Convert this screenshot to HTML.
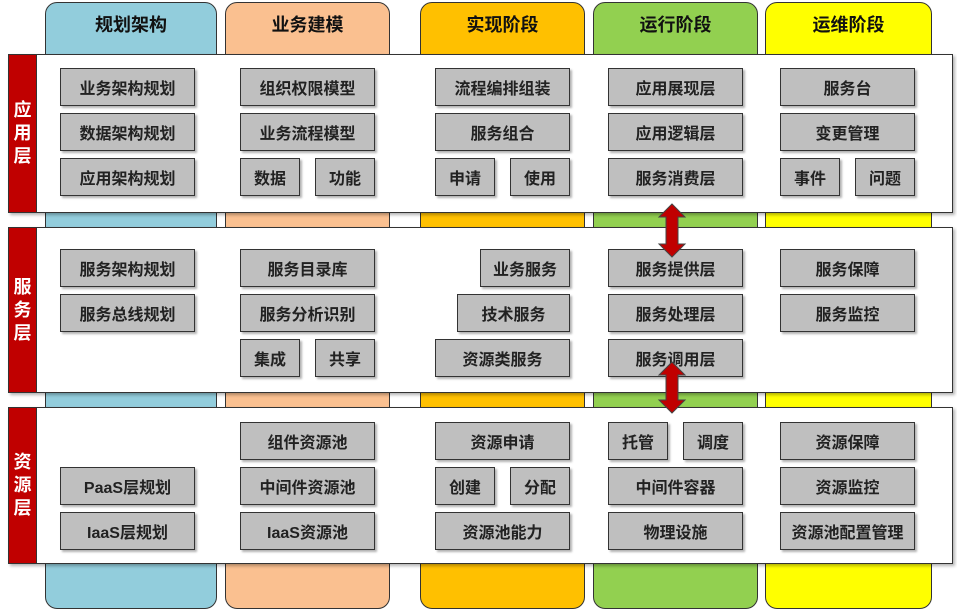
<!DOCTYPE html>
<html><head><meta charset="utf-8"><style>
body{margin:0;width:957px;height:613px;background:#fff;position:relative;overflow:hidden;font-family:"Liberation Sans","Noto Sans CJK SC",sans-serif;}
.col{position:absolute;top:2px;height:607px;border:1px solid #333;border-radius:12px;box-sizing:border-box;}
.col span{display:block;text-align:center;font-weight:bold;font-size:18px;margin-top:8px;color:#111}
.panel{position:absolute;left:8px;width:945px;background:#fff;border:1px solid #333;box-sizing:border-box;box-shadow:2px 2px 3px rgba(0,0,0,.3)}
.lab{position:absolute;left:8px;width:29px;background:#c00000;color:#fff;font-weight:bold;font-size:18px;display:flex;align-items:center;justify-content:center;text-align:center;line-height:23px;border:1px solid #333;box-sizing:border-box}
.b{position:absolute;height:38px;background:#bfbfbf;border:1px solid #333;box-sizing:border-box;display:flex;align-items:center;justify-content:center;font-size:16px;font-weight:bold;color:#222;box-shadow:2px 2px 2px rgba(0,0,0,.3)}
</style></head><body>
<div class="col" style="left:45px;width:172px;background:#92cddc"><span>规划架构</span></div>
<div class="col" style="left:225px;width:165px;background:#fac090"><span>业务建模</span></div>
<div class="col" style="left:420px;width:165px;background:#ffc000"><span>实现阶段</span></div>
<div class="col" style="left:593px;width:165px;background:#92d050"><span>运行阶段</span></div>
<div class="col" style="left:765px;width:167px;background:#ffff00"><span>运维阶段</span></div>

<div class="panel" style="top:54px;height:159px"></div>
<div class="lab" style="top:54px;height:159px">应<br>用<br>层</div>
<div class="panel" style="top:227px;height:166px"></div>
<div class="lab" style="top:227px;height:166px">服<br>务<br>层</div>
<div class="panel" style="top:407px;height:157px"></div>
<div class="lab" style="top:407px;height:157px">资<br>源<br>层</div>

<div class="b" style="left:60px;top:68px;width:135px">业务架构规划</div>
<div class="b" style="left:60px;top:113px;width:135px">数据架构规划</div>
<div class="b" style="left:60px;top:158px;width:135px">应用架构规划</div>
<div class="b" style="left:240px;top:68px;width:135px">组织权限模型</div>
<div class="b" style="left:240px;top:113px;width:135px">业务流程模型</div>
<div class="b" style="left:240px;top:158px;width:60px">数据</div>
<div class="b" style="left:315px;top:158px;width:60px">功能</div>
<div class="b" style="left:435px;top:68px;width:135px">流程编排组装</div>
<div class="b" style="left:435px;top:113px;width:135px">服务组合</div>
<div class="b" style="left:435px;top:158px;width:60px">申请</div>
<div class="b" style="left:510px;top:158px;width:60px">使用</div>
<div class="b" style="left:608px;top:68px;width:135px">应用展现层</div>
<div class="b" style="left:608px;top:113px;width:135px">应用逻辑层</div>
<div class="b" style="left:608px;top:158px;width:135px">服务消费层</div>
<div class="b" style="left:780px;top:68px;width:135px">服务台</div>
<div class="b" style="left:780px;top:113px;width:135px">变更管理</div>
<div class="b" style="left:780px;top:158px;width:60px">事件</div>
<div class="b" style="left:855px;top:158px;width:60px">问题</div>

<div class="b" style="left:60px;top:249px;width:135px">服务架构规划</div>
<div class="b" style="left:60px;top:294px;width:135px">服务总线规划</div>
<div class="b" style="left:240px;top:249px;width:135px">服务目录库</div>
<div class="b" style="left:240px;top:294px;width:135px">服务分析识别</div>
<div class="b" style="left:240px;top:339px;width:60px">集成</div>
<div class="b" style="left:315px;top:339px;width:60px">共享</div>
<div class="b" style="left:480px;top:249px;width:90px">业务服务</div>
<div class="b" style="left:457px;top:294px;width:113px">技术服务</div>
<div class="b" style="left:435px;top:339px;width:135px">资源类服务</div>
<div class="b" style="left:608px;top:249px;width:135px">服务提供层</div>
<div class="b" style="left:608px;top:294px;width:135px">服务处理层</div>
<div class="b" style="left:608px;top:339px;width:135px">服务调用层</div>
<div class="b" style="left:780px;top:249px;width:135px">服务保障</div>
<div class="b" style="left:780px;top:294px;width:135px">服务监控</div>

<div class="b" style="left:60px;top:467px;width:135px">PaaS层规划</div>
<div class="b" style="left:60px;top:512px;width:135px">IaaS层规划</div>
<div class="b" style="left:240px;top:422px;width:135px">组件资源池</div>
<div class="b" style="left:240px;top:467px;width:135px">中间件资源池</div>
<div class="b" style="left:240px;top:512px;width:135px">IaaS资源池</div>
<div class="b" style="left:435px;top:422px;width:135px">资源申请</div>
<div class="b" style="left:435px;top:467px;width:60px">创建</div>
<div class="b" style="left:510px;top:467px;width:60px">分配</div>
<div class="b" style="left:435px;top:512px;width:135px">资源池能力</div>
<div class="b" style="left:608px;top:422px;width:60px">托管</div>
<div class="b" style="left:683px;top:422px;width:60px">调度</div>
<div class="b" style="left:608px;top:467px;width:135px">中间件容器</div>
<div class="b" style="left:608px;top:512px;width:135px">物理设施</div>
<div class="b" style="left:780px;top:422px;width:135px">资源保障</div>
<div class="b" style="left:780px;top:467px;width:135px">资源监控</div>
<div class="b" style="left:780px;top:512px;width:135px">资源池配置管理</div>

<svg width="957" height="613" style="position:absolute;left:0;top:0">
<polygon points="672,204 685,217 678,217 678,244 685,244 672,257 659,244 666,244 666,217 659,217" fill="#c00000" stroke="#444" stroke-width="1"/>
<polygon points="672,362 685,375 678,375 678,400 685,400 672,413 659,400 666,400 666,375 659,375" fill="#c00000" stroke="#444" stroke-width="1"/>
</svg>
</body></html>
